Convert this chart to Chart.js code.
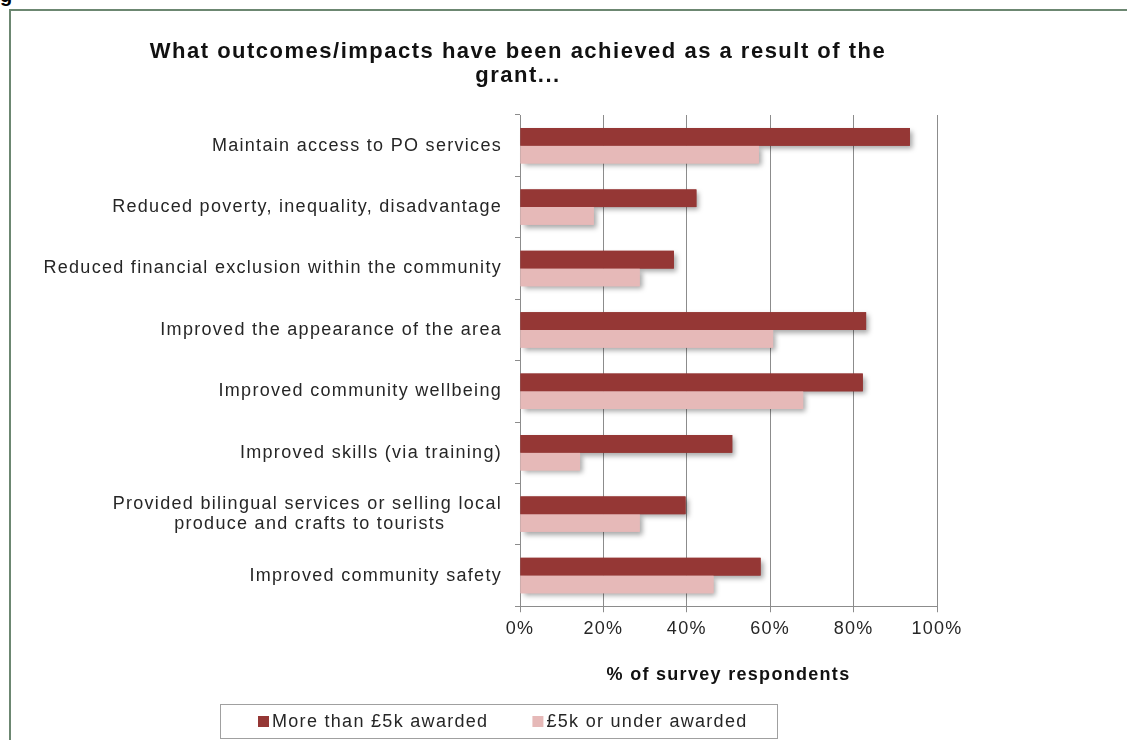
<!DOCTYPE html>
<html>
<head>
<meta charset="utf-8">
<title>Grant outcomes</title>
<script src="https://cdn.jsdelivr.net/npm/chart.js@4.4.1/dist/chart.umd.min.js"></script>
<style>
  html, body { margin: 0; padding: 0; background: #fff; overflow: hidden; }
  .page { position: relative; width: 1127px; height: 740px; overflow: hidden; }
  .fig-ref { position: absolute; left: 0; top: -15px; font: bold 20px 'Liberation Sans', Arial, sans-serif; line-height: 20px; color: #000; }
  .frame { position: absolute; left: 9px; top: 9px; width: 1200px; height: 800px; border: 2px solid #6c8771; }
  #outcomesChart { position: absolute; left: 0; top: 0; }
</style>
</head>
<body>
<div class="page">
  <div class="fig-ref">g</div>
  <div class="frame"></div>
  <canvas id="outcomesChart" width="1127" height="740"></canvas>
</div>
<script>
// Survey data: share of respondents reporting each outcome (%)
const titleLines = ['What outcomes/impacts have been achieved as a result of the', 'grant...'];
const categories = [
    'Maintain access to PO services',
    'Reduced poverty, inequality, disadvantage',
    'Reduced financial exclusion within the community',
    'Improved the appearance of the area',
    'Improved community wellbeing',
    'Improved skills (via training)',
    ['Provided bilingual services or selling local', 'produce and crafts to tourists'],
    'Improved community safety'
];
const seriesNames = ['More than £5k awarded', '£5k or under awarded'];
const over5k  = [93.5, 42.3, 36.9, 83.0, 82.2, 50.9, 39.7, 57.7];
const under5k = [57.3, 17.7, 28.7, 60.7, 67.9, 14.4, 28.7, 46.4];
const xTickLabels = ['0%', '20%', '40%', '60%', '80%', '100%'];
const xAxisTitle = '% of survey respondents';

const FONT = "'Liberation Sans', Arial, sans-serif";
const TEXT = '#262626';
const GRID = '#8c8c8c';
const SPACING = '1.3px';
const DARK = '#953735';
const LIGHT = '#e6b9b8';

// Excel centres wrapped category lines; pad the shorter lines so the
// right-aligned tick text comes out centred as a block.
function centreLines(lines) {
    const m = document.createElement('canvas').getContext('2d');
    m.font = `18px ${FONT}`;
    m.letterSpacing = SPACING;
    const widths = lines.map(l => m.measureText(l).width);
    const widest = Math.max(...widths);
    const space = m.measureText(' ').width;
    return lines.map((l, i) => l + ' '.repeat(Math.round((widest - widths[i]) / 2 / space)));
}

// canvas state is reset on resize, so re-apply letter spacing before measuring and drawing
const textSpacing = {
    id: 'textSpacing',
    beforeLayout(chart) { chart.ctx.letterSpacing = SPACING; },
    beforeDraw(chart) { chart.ctx.letterSpacing = SPACING; }
};

// soft drop shadow under every bar, painted before the bars themselves
const barShadow = {
    id: 'barShadow',
    beforeDatasetsDraw(chart) {
        const c = chart.ctx;
        c.save();
        c.shadowColor = 'rgba(0, 0, 0, 0.35)';
        c.shadowBlur = 5;
        c.shadowOffsetX = 3;
        c.shadowOffsetY = 3;
        chart.data.datasets.forEach((ds, i) => {
            chart.getDatasetMeta(i).data.forEach(bar => {
                const { x, y, base, height } = bar.getProps(['x', 'y', 'base', 'height'], true);
                c.fillStyle = ds.backgroundColor;
                c.fillRect(base, y - height / 2, x - base, height);
            });
        });
        c.restore();
    }
};

// chart heading and boxed legend
const headingAndLegend = {
    id: 'headingAndLegend',
    afterDraw(chart) {
        const c = chart.ctx;
        c.save();
        c.font = `bold 22px ${FONT}`;
        c.letterSpacing = '1.5px';
        c.textAlign = 'center';
        c.textBaseline = 'alphabetic';
        c.fillStyle = '#111';
        titleLines.forEach((t, i) => c.fillText(t, 518, 58 + i * 24));

        c.strokeStyle = '#a0a0a0';
        c.lineWidth = 1;
        c.strokeRect(220.5, 704.5, 557, 34);
        c.font = `18px ${FONT}`;
        c.letterSpacing = SPACING;
        c.textAlign = 'left';
        c.textBaseline = 'middle';
        let x = 258;
        chart.data.datasets.forEach(ds => {
            c.fillStyle = ds.backgroundColor;
            c.fillRect(x, 716, 11, 11);
            c.fillStyle = TEXT;
            c.fillText(ds.label, x + 14, 722);
            x += 14 + c.measureText(ds.label).width + 44;
        });
        c.restore();
    }
};

const tickFont = { family: FONT, size: 18, lineHeight: 1.12 };

new Chart(document.getElementById('outcomesChart').getContext('2d'), {
    type: 'bar',
    data: {
        labels: categories.map(c => Array.isArray(c) ? centreLines(c) : c),
        datasets: [
            { label: seriesNames[0], data: over5k, backgroundColor: DARK },
            { label: seriesNames[1], data: under5k, backgroundColor: LIGHT }
        ]
    },
    options: {
        indexAxis: 'y',
        responsive: false,
        animation: false,
        events: [],
        layout: { padding: { top: 115, right: 190, bottom: 54, left: 0 } },
        datasets: { bar: { categoryPercentage: 0.577, barPercentage: 1 } },
        plugins: {
            legend: { display: false },
            title: { display: false },
            tooltip: { enabled: false }
        },
        scales: {
            x: {
                min: 0,
                max: 100,
                ticks: {
                    stepSize: 20,
                    color: TEXT,
                    font: tickFont,
                    padding: 7,
                    callback: (v, i) => xTickLabels[i]
                },
                grid: { color: GRID, tickLength: 6 },
                border: { color: GRID },
                title: {
                    display: true,
                    text: xAxisTitle,
                    color: '#111',
                    font: { family: FONT, size: 18, weight: 'bold', lineHeight: 1.2 },
                    padding: { top: 18, bottom: 0 }
                }
            },
            y: {
                grid: { drawOnChartArea: false, tickLength: 5, color: GRID },
                border: { color: GRID },
                ticks: { color: TEXT, font: tickFont, padding: 13, autoSkip: false },
                afterFit(scale) { scale.width = 520; }
            }
        }
    },
    plugins: [textSpacing, barShadow, headingAndLegend]
});
</script>
</body>
</html>
